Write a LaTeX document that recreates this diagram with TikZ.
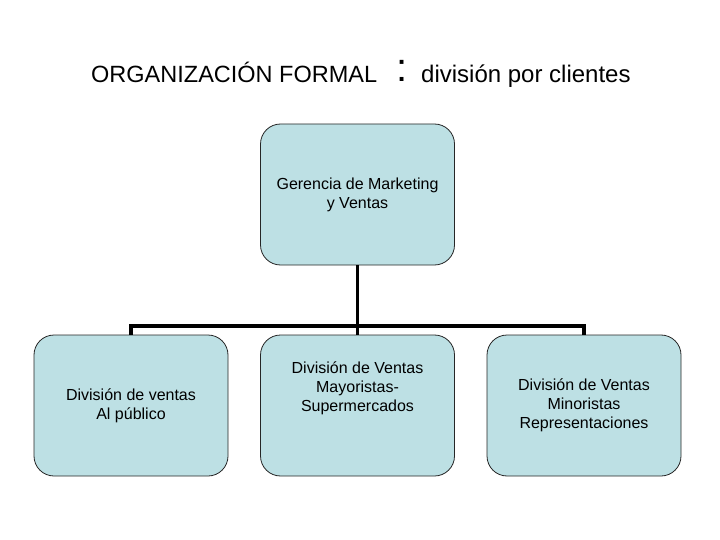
\documentclass[tikz,border=0pt]{standalone}
\usepackage{fontspec}
\setmainfont{Liberation Sans}
\definecolor{boxblue}{RGB}{189,224,228}

\begin{document}
\begin{tikzpicture}[x=1pt,y=-1pt,every node/.style={inner sep=0pt},
  unitbox/.style={draw=black!85,line width=0.8pt,fill=boxblue,rounded corners=20pt,
    minimum width=194pt,minimum height=141pt,align=center,font=\fontsize{16}{19}\selectfont},
  unittext/.style={align=center,font=\fontsize{16}{19}\selectfont},
  link/.style={line width=3.2pt}]
\useasboundingbox (0,0) rectangle (720,540);
\node[anchor=base west,font=\fontsize{23.5}{28}\selectfont] (tit) at (91,83) {ORGANIZACIÓN FORMAL};
\node[anchor=base,font=\fontsize{40}{48}\selectfont] (sep) at (401.7,82) {:};
\node[anchor=base west,font=\fontsize{24}{29}\selectfont] (sub) at (421,83) {división por clientes};
\node[unitbox] (ger) at (357.5,194.5) {Gerencia de Marketing\\y Ventas};
\node[unitbox] (pub) at (131,405.5) {División de ventas\\Al público};
\node[unitbox] (may) at (357.5,405.5) {};
\node[unittext] (maytxt) at (357.5,388) {División de Ventas\\Mayoristas-\\Supermercados};
\node[unitbox] (min) at (584,405.5) {División de Ventas\\Minoristas\\Representaciones};
\draw[link] (pub.north) -- ++(0,-8.7) -| (min.north);
\draw[link] (ger.south) -- (may.north);
\end{tikzpicture}
\end{document}
